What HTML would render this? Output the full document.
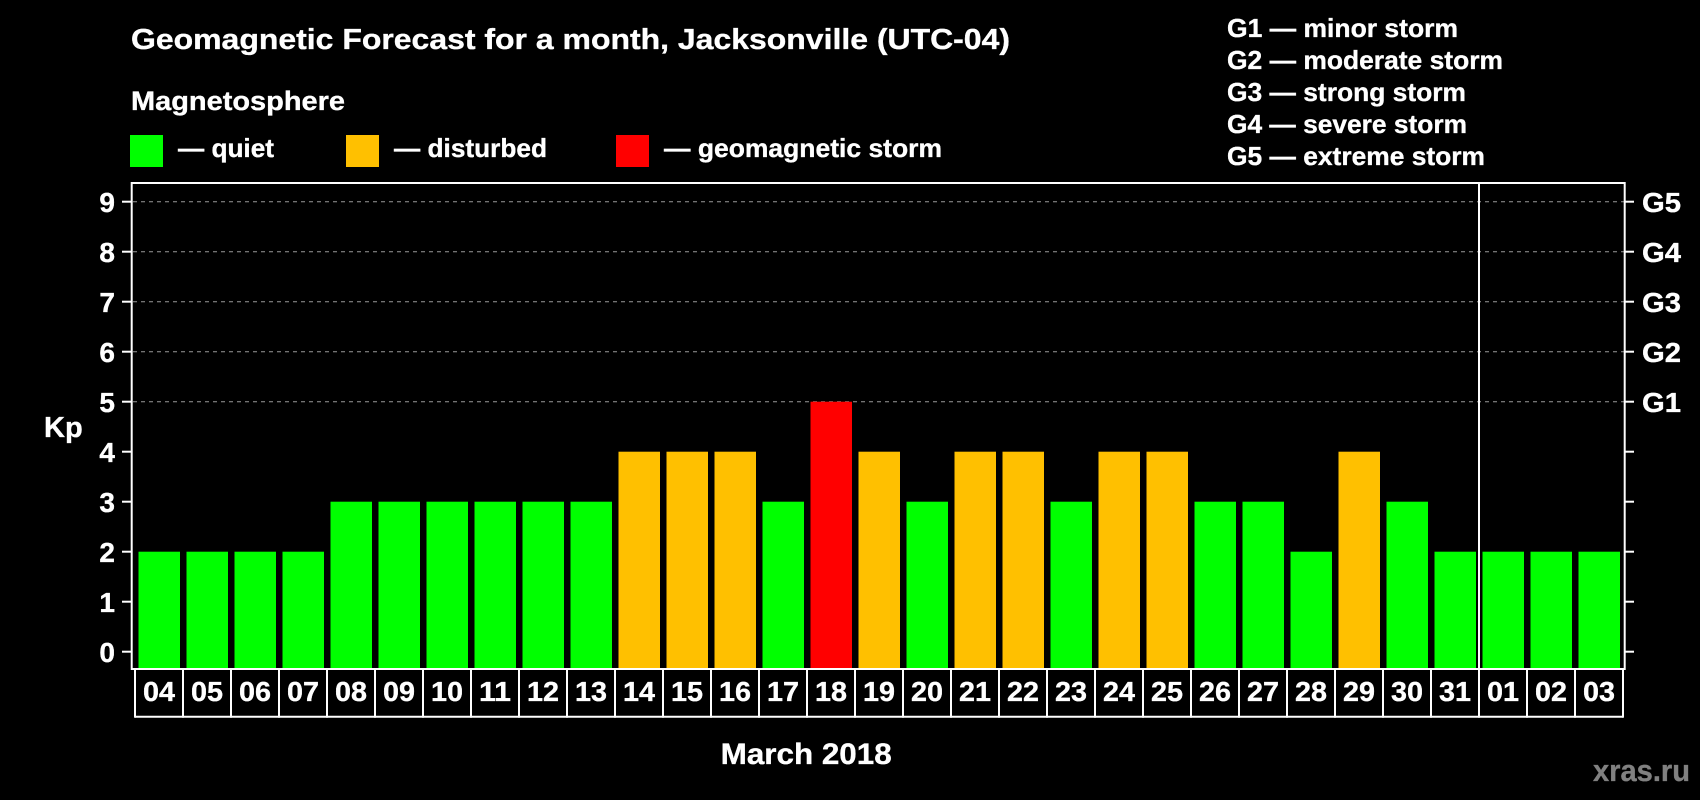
<!DOCTYPE html>
<html>
<head>
<meta charset="utf-8">
<style>
  html, body { margin: 0; padding: 0; background: #000; }
  svg { display: block; }
  text { font-family: "Liberation Sans", Arial, sans-serif; font-weight: bold; fill: #fff; stroke: #fff; stroke-width: 0.35px; }
</style>
</head>
<body>
<svg width="1700" height="800" viewBox="0 0 1700 800" xmlns="http://www.w3.org/2000/svg">
  <rect x="0" y="0" width="1700" height="800" fill="#000"/>

  <!-- Title & legend -->
  <text x="131" y="49" font-size="29" textLength="879" lengthAdjust="spacingAndGlyphs">Geomagnetic Forecast for a month, Jacksonville (UTC-04)</text>
  <text x="131" y="110" font-size="27" textLength="214" lengthAdjust="spacingAndGlyphs">Magnetosphere</text>

  <rect x="130" y="135" width="33" height="32" fill="#00ff00"/>
  <text x="178" y="157" font-size="26" textLength="96" lengthAdjust="spacingAndGlyphs">— quiet</text>
  <rect x="346" y="135" width="33" height="32" fill="#ffc000"/>
  <text x="394" y="157" font-size="26" textLength="153" lengthAdjust="spacingAndGlyphs">— disturbed</text>
  <rect x="616" y="135" width="33" height="32" fill="#ff0000"/>
  <text x="664" y="157" font-size="26" textLength="278" lengthAdjust="spacingAndGlyphs">— geomagnetic storm</text>

  <text x="1227" y="37" font-size="26" textLength="231" lengthAdjust="spacingAndGlyphs">G1 — minor storm</text>
  <text x="1227" y="69" font-size="26" textLength="276" lengthAdjust="spacingAndGlyphs">G2 — moderate storm</text>
  <text x="1227" y="101" font-size="26" textLength="239" lengthAdjust="spacingAndGlyphs">G3 — strong storm</text>
  <text x="1227" y="133" font-size="26" textLength="240" lengthAdjust="spacingAndGlyphs">G4 — severe storm</text>
  <text x="1227" y="165" font-size="26" textLength="258" lengthAdjust="spacingAndGlyphs">G5 — extreme storm</text>

  <!-- Gridlines (G levels) -->
  <g stroke="#999" stroke-width="1" stroke-dasharray="4,4">
    <line x1="133" y1="201.7" x2="1624" y2="201.7"/>
    <line x1="133" y1="251.7" x2="1624" y2="251.7"/>
    <line x1="133" y1="301.7" x2="1624" y2="301.7"/>
    <line x1="133" y1="351.7" x2="1624" y2="351.7"/>
    <line x1="133" y1="401.7" x2="1624" y2="401.7"/>
  </g>

  <!-- Bars -->
  <g>
    <rect x="138.5" y="551.7" width="41.5" height="116.3" fill="#00ff00"/>
    <rect x="186.5" y="551.7" width="41.5" height="116.3" fill="#00ff00"/>
    <rect x="234.5" y="551.7" width="41.5" height="116.3" fill="#00ff00"/>
    <rect x="282.5" y="551.7" width="41.5" height="116.3" fill="#00ff00"/>
    <rect x="330.5" y="501.7" width="41.5" height="166.3" fill="#00ff00"/>
    <rect x="378.5" y="501.7" width="41.5" height="166.3" fill="#00ff00"/>
    <rect x="426.5" y="501.7" width="41.5" height="166.3" fill="#00ff00"/>
    <rect x="474.5" y="501.7" width="41.5" height="166.3" fill="#00ff00"/>
    <rect x="522.5" y="501.7" width="41.5" height="166.3" fill="#00ff00"/>
    <rect x="570.5" y="501.7" width="41.5" height="166.3" fill="#00ff00"/>
    <rect x="618.5" y="451.7" width="41.5" height="216.3" fill="#ffc000"/>
    <rect x="666.5" y="451.7" width="41.5" height="216.3" fill="#ffc000"/>
    <rect x="714.5" y="451.7" width="41.5" height="216.3" fill="#ffc000"/>
    <rect x="762.5" y="501.7" width="41.5" height="166.3" fill="#00ff00"/>
    <rect x="810.5" y="401.7" width="41.5" height="266.3" fill="#ff0000"/>
    <rect x="858.5" y="451.7" width="41.5" height="216.3" fill="#ffc000"/>
    <rect x="906.5" y="501.7" width="41.5" height="166.3" fill="#00ff00"/>
    <rect x="954.5" y="451.7" width="41.5" height="216.3" fill="#ffc000"/>
    <rect x="1002.5" y="451.7" width="41.5" height="216.3" fill="#ffc000"/>
    <rect x="1050.5" y="501.7" width="41.5" height="166.3" fill="#00ff00"/>
    <rect x="1098.5" y="451.7" width="41.5" height="216.3" fill="#ffc000"/>
    <rect x="1146.5" y="451.7" width="41.5" height="216.3" fill="#ffc000"/>
    <rect x="1194.5" y="501.7" width="41.5" height="166.3" fill="#00ff00"/>
    <rect x="1242.5" y="501.7" width="41.5" height="166.3" fill="#00ff00"/>
    <rect x="1290.5" y="551.7" width="41.5" height="116.3" fill="#00ff00"/>
    <rect x="1338.5" y="451.7" width="41.5" height="216.3" fill="#ffc000"/>
    <rect x="1386.5" y="501.7" width="41.5" height="166.3" fill="#00ff00"/>
    <rect x="1434.5" y="551.7" width="41.5" height="116.3" fill="#00ff00"/>
    <rect x="1482.5" y="551.7" width="41.5" height="116.3" fill="#00ff00"/>
    <rect x="1530.5" y="551.7" width="41.5" height="116.3" fill="#00ff00"/>
    <rect x="1578.5" y="551.7" width="41.5" height="116.3" fill="#00ff00"/>
  </g>

  <!-- Plot box -->
  <rect x="131.7" y="183" width="1493" height="486" fill="none" stroke="#fff" stroke-width="2"/>
  <line x1="1479" y1="183" x2="1479" y2="669" stroke="#fff" stroke-width="2"/>

  <!-- Y ticks left & right -->
  <g stroke="#fff" stroke-width="2">
    <line x1="122" y1="651.7" x2="131" y2="651.7"/><line x1="1625" y1="651.7" x2="1634" y2="651.7"/>
    <line x1="122" y1="601.7" x2="131" y2="601.7"/><line x1="1625" y1="601.7" x2="1634" y2="601.7"/>
    <line x1="122" y1="551.7" x2="131" y2="551.7"/><line x1="1625" y1="551.7" x2="1634" y2="551.7"/>
    <line x1="122" y1="501.7" x2="131" y2="501.7"/><line x1="1625" y1="501.7" x2="1634" y2="501.7"/>
    <line x1="122" y1="451.7" x2="131" y2="451.7"/><line x1="1625" y1="451.7" x2="1634" y2="451.7"/>
    <line x1="122" y1="401.7" x2="131" y2="401.7"/><line x1="1625" y1="401.7" x2="1634" y2="401.7"/>
    <line x1="122" y1="351.7" x2="131" y2="351.7"/><line x1="1625" y1="351.7" x2="1634" y2="351.7"/>
    <line x1="122" y1="301.7" x2="131" y2="301.7"/><line x1="1625" y1="301.7" x2="1634" y2="301.7"/>
    <line x1="122" y1="251.7" x2="131" y2="251.7"/><line x1="1625" y1="251.7" x2="1634" y2="251.7"/>
    <line x1="122" y1="201.7" x2="131" y2="201.7"/><line x1="1625" y1="201.7" x2="1634" y2="201.7"/>
  </g>

  <!-- Y labels -->
  <g font-size="28" text-anchor="end">
    <text x="115" y="662">0</text>
    <text x="115" y="612">1</text>
    <text x="115" y="562">2</text>
    <text x="115" y="512">3</text>
    <text x="115" y="462">4</text>
    <text x="115" y="412">5</text>
    <text x="115" y="362">6</text>
    <text x="115" y="312">7</text>
    <text x="115" y="262">8</text>
    <text x="115" y="212">9</text>
  </g>
  <text x="44" y="437" font-size="29">Kp</text>

  <g font-size="28">
    <text x="1642" y="412" textLength="39" lengthAdjust="spacingAndGlyphs">G1</text>
    <text x="1642" y="362" textLength="39" lengthAdjust="spacingAndGlyphs">G2</text>
    <text x="1642" y="312" textLength="39" lengthAdjust="spacingAndGlyphs">G3</text>
    <text x="1642" y="262" textLength="39" lengthAdjust="spacingAndGlyphs">G4</text>
    <text x="1642" y="212" textLength="39" lengthAdjust="spacingAndGlyphs">G5</text>
  </g>

  <!-- X label boxes -->
  <g stroke="#fff" stroke-width="2">
    <line x1="135" y1="716.7" x2="1623" y2="716.7"/>
    <line x1="135" y1="669" x2="135" y2="717.7"/>
    <line x1="183" y1="669" x2="183" y2="717.7"/>
    <line x1="231" y1="669" x2="231" y2="717.7"/>
    <line x1="279" y1="669" x2="279" y2="717.7"/>
    <line x1="327" y1="669" x2="327" y2="717.7"/>
    <line x1="375" y1="669" x2="375" y2="717.7"/>
    <line x1="423" y1="669" x2="423" y2="717.7"/>
    <line x1="471" y1="669" x2="471" y2="717.7"/>
    <line x1="519" y1="669" x2="519" y2="717.7"/>
    <line x1="567" y1="669" x2="567" y2="717.7"/>
    <line x1="615" y1="669" x2="615" y2="717.7"/>
    <line x1="663" y1="669" x2="663" y2="717.7"/>
    <line x1="711" y1="669" x2="711" y2="717.7"/>
    <line x1="759" y1="669" x2="759" y2="717.7"/>
    <line x1="807" y1="669" x2="807" y2="717.7"/>
    <line x1="855" y1="669" x2="855" y2="717.7"/>
    <line x1="903" y1="669" x2="903" y2="717.7"/>
    <line x1="951" y1="669" x2="951" y2="717.7"/>
    <line x1="999" y1="669" x2="999" y2="717.7"/>
    <line x1="1047" y1="669" x2="1047" y2="717.7"/>
    <line x1="1095" y1="669" x2="1095" y2="717.7"/>
    <line x1="1143" y1="669" x2="1143" y2="717.7"/>
    <line x1="1191" y1="669" x2="1191" y2="717.7"/>
    <line x1="1239" y1="669" x2="1239" y2="717.7"/>
    <line x1="1287" y1="669" x2="1287" y2="717.7"/>
    <line x1="1335" y1="669" x2="1335" y2="717.7"/>
    <line x1="1383" y1="669" x2="1383" y2="717.7"/>
    <line x1="1431" y1="669" x2="1431" y2="717.7"/>
    <line x1="1479" y1="669" x2="1479" y2="717.7"/>
    <line x1="1527" y1="669" x2="1527" y2="717.7"/>
    <line x1="1575" y1="669" x2="1575" y2="717.7"/>
    <line x1="1623" y1="669" x2="1623" y2="717.7"/>
  </g>

  <g font-size="28" text-anchor="middle">
    <text x="159" y="701" textLength="32" lengthAdjust="spacingAndGlyphs">04</text>
    <text x="207" y="701" textLength="32" lengthAdjust="spacingAndGlyphs">05</text>
    <text x="255" y="701" textLength="32" lengthAdjust="spacingAndGlyphs">06</text>
    <text x="303" y="701" textLength="32" lengthAdjust="spacingAndGlyphs">07</text>
    <text x="351" y="701" textLength="32" lengthAdjust="spacingAndGlyphs">08</text>
    <text x="399" y="701" textLength="32" lengthAdjust="spacingAndGlyphs">09</text>
    <text x="447" y="701" textLength="32" lengthAdjust="spacingAndGlyphs">10</text>
    <text x="495" y="701" textLength="32" lengthAdjust="spacingAndGlyphs">11</text>
    <text x="543" y="701" textLength="32" lengthAdjust="spacingAndGlyphs">12</text>
    <text x="591" y="701" textLength="32" lengthAdjust="spacingAndGlyphs">13</text>
    <text x="639" y="701" textLength="32" lengthAdjust="spacingAndGlyphs">14</text>
    <text x="687" y="701" textLength="32" lengthAdjust="spacingAndGlyphs">15</text>
    <text x="735" y="701" textLength="32" lengthAdjust="spacingAndGlyphs">16</text>
    <text x="783" y="701" textLength="32" lengthAdjust="spacingAndGlyphs">17</text>
    <text x="831" y="701" textLength="32" lengthAdjust="spacingAndGlyphs">18</text>
    <text x="879" y="701" textLength="32" lengthAdjust="spacingAndGlyphs">19</text>
    <text x="927" y="701" textLength="32" lengthAdjust="spacingAndGlyphs">20</text>
    <text x="975" y="701" textLength="32" lengthAdjust="spacingAndGlyphs">21</text>
    <text x="1023" y="701" textLength="32" lengthAdjust="spacingAndGlyphs">22</text>
    <text x="1071" y="701" textLength="32" lengthAdjust="spacingAndGlyphs">23</text>
    <text x="1119" y="701" textLength="32" lengthAdjust="spacingAndGlyphs">24</text>
    <text x="1167" y="701" textLength="32" lengthAdjust="spacingAndGlyphs">25</text>
    <text x="1215" y="701" textLength="32" lengthAdjust="spacingAndGlyphs">26</text>
    <text x="1263" y="701" textLength="32" lengthAdjust="spacingAndGlyphs">27</text>
    <text x="1311" y="701" textLength="32" lengthAdjust="spacingAndGlyphs">28</text>
    <text x="1359" y="701" textLength="32" lengthAdjust="spacingAndGlyphs">29</text>
    <text x="1407" y="701" textLength="32" lengthAdjust="spacingAndGlyphs">30</text>
    <text x="1455" y="701" textLength="32" lengthAdjust="spacingAndGlyphs">31</text>
    <text x="1503" y="701" textLength="32" lengthAdjust="spacingAndGlyphs">01</text>
    <text x="1551" y="701" textLength="32" lengthAdjust="spacingAndGlyphs">02</text>
    <text x="1599" y="701" textLength="32" lengthAdjust="spacingAndGlyphs">03</text>
  </g>

  <text x="720.7" y="764" font-size="30" textLength="171" lengthAdjust="spacingAndGlyphs">March 2018</text>
  <text x="1593" y="781" font-size="31" textLength="97" lengthAdjust="spacingAndGlyphs" style="fill:#808080;stroke:#808080">xras.ru</text>
</svg>
</body>
</html>
